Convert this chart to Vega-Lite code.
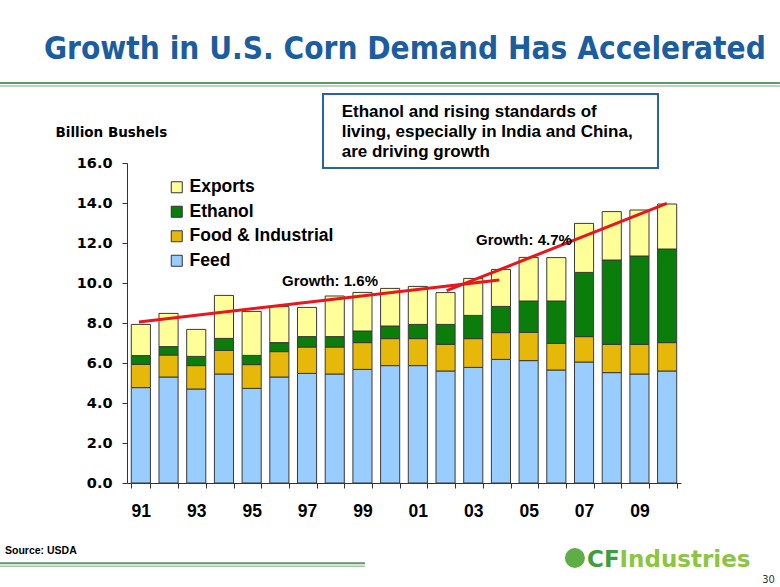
{
  "$schema": "https://vega.github.io/schema/vega-lite/v6.json",
  "width": 554,
  "height": 320,
  "autosize": {"type": "none"},
  "padding": {"left": 127, "top": 163, "right": 99, "bottom": 104},
  "background": "white",
  "title": {
    "text": "Growth in U.S. Corn Demand Has Accelerated",
    "anchor": "start",
    "frame": "group",
    "dx": -83,
    "offset": 17,
    "font": "DejaVu Sans Condensed, sans-serif",
    "fontSize": 31.3,
    "fontWeight": "bold",
    "color": "#1B5E9F"
  },
  "config": {"view": {"stroke": null}, "font": "Liberation Sans, Arial, sans-serif"},
  "resolve": {"scale": {"x": "independent", "y": "independent"}},
  "layer": [
    {
      "data": {"values": [
        {"year": "91", "Feed": 4.77, "Food & Industrial": 1.16, "Ethanol": 0.44, "Exports": 1.56},
        {"year": "92", "Feed": 5.30, "Food & Industrial": 1.10, "Ethanol": 0.42, "Exports": 1.66},
        {"year": "93", "Feed": 4.70, "Food & Industrial": 1.17, "Ethanol": 0.46, "Exports": 1.35},
        {"year": "94", "Feed": 5.45, "Food & Industrial": 1.18, "Ethanol": 0.60, "Exports": 2.15},
        {"year": "95", "Feed": 4.73, "Food & Industrial": 1.19, "Ethanol": 0.46, "Exports": 2.20},
        {"year": "96", "Feed": 5.30, "Food & Industrial": 1.27, "Ethanol": 0.45, "Exports": 1.80},
        {"year": "97", "Feed": 5.48, "Food & Industrial": 1.32, "Ethanol": 0.52, "Exports": 1.46},
        {"year": "98", "Feed": 5.45, "Food & Industrial": 1.35, "Ethanol": 0.52, "Exports": 2.03},
        {"year": "99", "Feed": 5.68, "Food & Industrial": 1.34, "Ethanol": 0.58, "Exports": 1.93},
        {"year": "00", "Feed": 5.87, "Food & Industrial": 1.35, "Ethanol": 0.63, "Exports": 1.88},
        {"year": "01", "Feed": 5.87, "Food & Industrial": 1.35, "Ethanol": 0.71, "Exports": 1.90},
        {"year": "02", "Feed": 5.60, "Food & Industrial": 1.33, "Ethanol": 1.00, "Exports": 1.59},
        {"year": "03", "Feed": 5.78, "Food & Industrial": 1.44, "Ethanol": 1.16, "Exports": 1.85},
        {"year": "04", "Feed": 6.18, "Food & Industrial": 1.34, "Ethanol": 1.31, "Exports": 1.85},
        {"year": "05", "Feed": 6.12, "Food & Industrial": 1.41, "Ethanol": 1.57, "Exports": 2.18},
        {"year": "06", "Feed": 5.65, "Food & Industrial": 1.33, "Ethanol": 2.12, "Exports": 2.17},
        {"year": "07", "Feed": 6.05, "Food & Industrial": 1.27, "Ethanol": 3.21, "Exports": 2.45},
        {"year": "08", "Feed": 5.52, "Food & Industrial": 1.41, "Ethanol": 4.22, "Exports": 2.42},
        {"year": "09", "Feed": 5.45, "Food & Industrial": 1.48, "Ethanol": 4.42, "Exports": 2.30},
        {"year": "10", "Feed": 5.60, "Food & Industrial": 1.42, "Ethanol": 4.68, "Exports": 2.25}
      ]},
      "transform": [
        {"fold": ["Feed", "Food & Industrial", "Ethanol", "Exports"], "as": ["type", "value"]},
        {"window": [{"op": "row_number", "as": "k"}], "groupby": ["year"]}
      ],
      "mark": {"type": "bar", "stroke": "#3a3a3a", "strokeWidth": 1},
      "encoding": {
        "x": {
          "field": "year", "type": "ordinal",
          "sort": ["91","92","93","94","95","96","97","98","99","00","01","02","03","04","05","06","07","08","09","10"],
          "scale": {"paddingInner": 0.31, "paddingOuter": 0.155},
          "axis": {
            "title": null,
            "labelExpr": "indexof(['91','93','95','97','99','01','03','05','07','09'], datum.value) >= 0 ? datum.label : ''",
            "tickBand": "extent",
            "tickSize": 5,
            "labelPadding": 14,
            "labelAngle": 0,
            "labelFontSize": 17.5,
            "labelFontWeight": "bold",
            "labelColor": "#000000",
            "domainColor": "#333333",
            "tickColor": "#333333"
          }
        },
        "y": {
          "field": "value", "type": "quantitative", "stack": "zero",
          "scale": {"domain": [0, 16], "nice": false},
          "axis": {
            "title": "Billion Bushels",
            "values": [0, 2, 4, 6, 8, 10, 12, 14, 16],
            "format": ".1f",
            "grid": false,
            "tickSize": 5,
            "labelPadding": 10,
            "labelFont": "DejaVu Sans, sans-serif",
            "labelFontSize": 14.5,
            "labelFontWeight": "bold",
            "labelColor": "#000000",
            "domainColor": "#333333",
            "tickColor": "#333333",
            "titleAngle": 0,
            "titleAlign": "left",
            "titleBaseline": "middle",
            "titleX": -72,
            "titleY": -31,
            "titleFont": "DejaVu Sans, sans-serif",
            "titleFontSize": 13.5,
            "titleFontWeight": "bold",
            "titleColor": "#000000"
          }
        },
        "color": {
          "field": "type", "type": "nominal",
          "scale": {"domain": ["Feed", "Food & Industrial", "Ethanol", "Exports"], "range": ["#99CCFF", "#E6B80A", "#0B7D0B", "#FFFF99"]},
          "legend": {
            "title": null,
            "values": ["Exports", "Ethanol", "Food & Industrial", "Feed"],
            "orient": "none",
            "legendX": 41,
            "legendY": 15.5,
            "padding": 0,
            "symbolType": "square",
            "symbolSize": 121,
            "symbolStrokeColor": "#333333",
            "symbolStrokeWidth": 1,
            "labelFontSize": 17.5,
            "labelFontWeight": "bold",
            "labelColor": "#000000",
            "labelOffset": 4,
            "rowPadding": 5.5
          }
        },
        "order": {"field": "k", "type": "quantitative", "sort": "ascending"}
      }
    },
    {
      "data": {"values": [{}]},
      "mark": {"type": "rule", "color": "#5E9A66", "strokeWidth": 2},
      "encoding": {
        "x": {"datum": -4.085, "type": "quantitative", "scale": {"domain": [0.5, 20.5], "nice": false, "zero": false}, "axis": null},
        "x2": {"datum": 24.07},
        "y": {"datum": 20.0, "type": "quantitative", "scale": {"domain": [0, 16], "nice": false}, "axis": null}
      }
    },
    {
      "data": {"values": [{}]},
      "mark": {"type": "rule", "color": "#A2C7A4", "strokeWidth": 1.5},
      "encoding": {
        "x": {"datum": -4.085, "type": "quantitative", "scale": {"domain": [0.5, 20.5], "nice": false, "zero": false}, "axis": null},
        "x2": {"datum": 24.07},
        "y": {"datum": 19.85, "type": "quantitative", "scale": {"domain": [0, 16], "nice": false}, "axis": null}
      }
    },
    {
      "data": {"values": [{}]},
      "mark": {"type": "rule", "color": "#5E9A66", "strokeWidth": 2},
      "encoding": {
        "x": {"datum": -4.085, "type": "quantitative", "scale": {"domain": [0.5, 20.5], "nice": false, "zero": false}, "axis": null},
        "x2": {"datum": 9.09},
        "y": {"datum": -4.015, "type": "quantitative", "scale": {"domain": [0, 16], "nice": false}, "axis": null}
      }
    },
    {
      "data": {"values": [{}]},
      "mark": {"type": "rule", "color": "#A2C7A4", "strokeWidth": 1.5},
      "encoding": {
        "x": {"datum": -4.085, "type": "quantitative", "scale": {"domain": [0.5, 20.5], "nice": false, "zero": false}, "axis": null},
        "x2": {"datum": 9.09},
        "y": {"datum": -4.16, "type": "quantitative", "scale": {"domain": [0, 16], "nice": false}, "axis": null}
      }
    },
    {
      "data": {"values": [{}]},
      "mark": {"type": "rect", "fill": "white", "stroke": "#2A62A8", "strokeWidth": 2},
      "encoding": {
        "x": {"datum": 7.576, "type": "quantitative", "scale": {"domain": [0.5, 20.5], "nice": false, "zero": false}, "axis": null},
        "x2": {"datum": 19.67},
        "y": {"datum": 19.45, "type": "quantitative", "scale": {"domain": [0, 16], "nice": false}, "axis": null},
        "y2": {"datum": 15.75}
      }
    },
    {
      "data": {"values": [{}]},
      "mark": {
        "type": "text",
        "text": ["Ethanol and rising standards of", "living, especially in India and China,", "are driving growth"],
        "align": "left", "baseline": "middle", "lineHeight": 20,
        "fontSize": 17, "fontWeight": "bold", "color": "#000000"
      },
      "encoding": {
        "x": {"datum": 8.25, "type": "quantitative", "scale": {"domain": [0.5, 20.5], "nice": false, "zero": false}, "axis": null},
        "y": {"datum": 18.565, "type": "quantitative", "scale": {"domain": [0, 16], "nice": false}, "axis": null}
      }
    },
    {
      "data": {"values": [
        {"trend": "Growth: 1.6%", "i": 0.93, "v": 8.05},
        {"trend": "Growth: 1.6%", "i": 13.94, "v": 10.15},
        {"trend": "Growth: 4.7%", "i": 12.04, "v": 9.62},
        {"trend": "Growth: 4.7%", "i": 19.99, "v": 13.98}
      ]},
      "mark": {"type": "line", "color": "#E8161D", "strokeWidth": 3},
      "encoding": {
        "x": {"field": "i", "type": "quantitative", "scale": {"domain": [0.5, 20.5], "nice": false, "zero": false}, "axis": null},
        "y": {"field": "v", "type": "quantitative", "scale": {"domain": [0, 16], "nice": false}, "axis": null},
        "detail": {"field": "trend", "type": "nominal"}
      }
    },
    {
      "data": {"values": [
        {"label": "Growth: 1.6%", "i": 7.83, "v": 10.1},
        {"label": "Growth: 4.7%", "i": 14.83, "v": 12.15}
      ]},
      "mark": {"type": "text", "align": "center", "baseline": "middle", "fontSize": 15, "fontWeight": "bold", "color": "#000000"},
      "encoding": {
        "x": {"field": "i", "type": "quantitative", "scale": {"domain": [0.5, 20.5], "nice": false, "zero": false}, "axis": null},
        "y": {"field": "v", "type": "quantitative", "scale": {"domain": [0, 16], "nice": false}, "axis": null},
        "text": {"field": "label"}
      }
    },
    {
      "data": {"values": [{}]},
      "mark": {"type": "text", "text": "Source: USDA", "align": "left", "baseline": "middle", "font": "Liberation Sans, sans-serif", "fontSize": 10.5, "fontWeight": "bold", "color": "#000000"},
      "encoding": {
        "x": {"datum": -3.904, "type": "quantitative", "scale": {"domain": [0.5, 20.5], "nice": false, "zero": false}, "axis": null},
        "y": {"datum": -3.4, "type": "quantitative", "scale": {"domain": [0, 16], "nice": false}, "axis": null}
      }
    },
    {
      "data": {"values": [{}]},
      "mark": {"type": "point", "shape": "circle", "filled": true, "size": 400, "color": "#5DAE46", "opacity": 1},
      "encoding": {
        "x": {"datum": 16.67, "type": "quantitative", "scale": {"domain": [0.5, 20.5], "nice": false, "zero": false}, "axis": null},
        "y": {"datum": -3.75, "type": "quantitative", "scale": {"domain": [0, 16], "nice": false}, "axis": null}
      }
    },
    {
      "data": {"values": [{}]},
      "mark": {"type": "text", "text": "CF", "align": "left", "baseline": "middle", "font": "DejaVu Sans, sans-serif", "fontSize": 23, "fontWeight": "bold", "color": "#3E9E3C"},
      "encoding": {
        "x": {"datum": 17.11, "type": "quantitative", "scale": {"domain": [0.5, 20.5], "nice": false, "zero": false}, "axis": null},
        "y": {"datum": -3.825, "type": "quantitative", "scale": {"domain": [0, 16], "nice": false}, "axis": null}
      }
    },
    {
      "data": {"values": [{}]},
      "mark": {"type": "text", "text": "Industries", "align": "left", "baseline": "middle", "font": "DejaVu Sans, sans-serif", "fontSize": 23, "fontWeight": "bold", "color": "#8CC540"},
      "encoding": {
        "x": {"datum": 18.28, "type": "quantitative", "scale": {"domain": [0.5, 20.5], "nice": false, "zero": false}, "axis": null},
        "y": {"datum": -3.825, "type": "quantitative", "scale": {"domain": [0, 16], "nice": false}, "axis": null}
      }
    },
    {
      "data": {"values": [{}]},
      "mark": {"type": "text", "text": "30", "align": "right", "baseline": "middle", "font": "DejaVu Sans Condensed, sans-serif", "fontSize": 11, "color": "#333333"},
      "encoding": {
        "x": {"datum": 23.89, "type": "quantitative", "scale": {"domain": [0.5, 20.5], "nice": false, "zero": false}, "axis": null},
        "y": {"datum": -4.85, "type": "quantitative", "scale": {"domain": [0, 16], "nice": false}, "axis": null}
      }
    }
  ]
}
